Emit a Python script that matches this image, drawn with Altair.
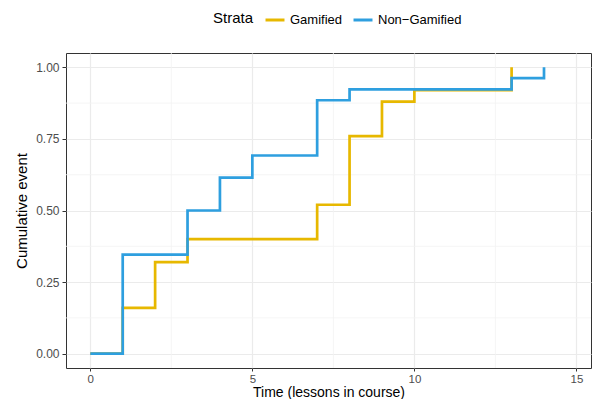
import altair as alt
import pandas as pd

# Data
gam_time = [0, 1, 2, 3, 7, 8, 9, 10, 13]
gam_cum = [0.0, 0.16, 0.32, 0.40, 0.52, 0.76, 0.88, 0.92, 1.00]
non_time = [0, 1, 3, 4, 5, 7, 8, 13, 14]
non_cum = [0.0, 0.346, 0.50, 0.615, 0.692, 0.885, 0.923, 0.962, 1.00]
strata = ["Gamified", "Non\u2212Gamified"]
colors = ["#E7B800", "#2E9FDF"]
x_ticks = [0, 5, 10, 15]
y_ticks = [0.0, 0.25, 0.5, 0.75, 1.0]
x_minor = [2.5, 7.5, 12.5]
y_minor = [0.125, 0.375, 0.625, 0.875]

df = pd.DataFrame(
    {"time": gam_time + non_time,
     "cum": gam_cum + non_cum,
     "Strata": [strata[0]] * len(gam_time) + [strata[1]] * len(non_time)}
)

xs = alt.Scale(domain=[-0.75, 15.45], nice=False, zero=False)
ys = alt.Scale(domain=[-0.05, 1.05], nice=False, zero=False)

FONT = "Liberation Sans"

xminor = alt.Chart(pd.DataFrame({"v": x_minor})).mark_rule(
    color="#F2F2F2", strokeWidth=0.8).encode(x=alt.X("v:Q", scale=xs))
yminor = alt.Chart(pd.DataFrame({"v": y_minor})).mark_rule(
    color="#F2F2F2", strokeWidth=0.8).encode(y=alt.Y("v:Q", scale=ys))

lines = alt.Chart(df).mark_line(interpolate="step-after", strokeWidth=2.7).encode(
    x=alt.X("time:Q", scale=xs,
            axis=alt.Axis(values=x_ticks, title="Time (lessons in course)",
                          format="d", labelPadding=2, tickSize=3,
                          labelFontSize=11.5, titleFontSize=14,
                          titleBaseline="bottom", titleY=31)),
    y=alt.Y("cum:Q", scale=ys,
            axis=alt.Axis(values=y_ticks, title="Cumulative event",
                          format=".2f", titlePadding=6, labelPadding=3)),
    color=alt.Color("Strata:N",
                    scale=alt.Scale(domain=strata, range=colors),
                    legend=alt.Legend(orient="none", direction="horizontal",
                                      legendX=147, legendY=-44,
                                      titleOrient="left", title="Strata",
                                      symbolType="stroke", symbolStrokeWidth=3,
                                      symbolSize=360, columnPadding=4,
                                      labelOffset=4, titlePadding=10)),
    detail="Strata:N",
)

chart = alt.layer(xminor, yminor, lines).properties(
    width=525, height=315,
    autosize=alt.AutoSizeParams(type="none"),
    padding={"left": 58, "top": 45, "right": 2, "bottom": 31},
    background="white",
).configure_view(
    stroke="#333333", strokeWidth=1
).configure_axis(
    grid=True, gridColor="#EBEBEB", gridWidth=1.2,
    domain=False, tickColor="#333333", tickSize=4, tickWidth=1,
    labelFont=FONT, labelFontSize=12, labelColor="#4D4D4D",
    titleFont=FONT, titleFontSize=15, titleColor="#000000", titleFontWeight="normal",
).configure_legend(
    titleFont=FONT, titleFontSize=15, titleFontWeight="normal", titleColor="#000000",
    labelFont=FONT, labelFontSize=13, labelColor="#000000",
)

chart.save("out.html", embed_options={"renderer": "svg", "actions": False})
